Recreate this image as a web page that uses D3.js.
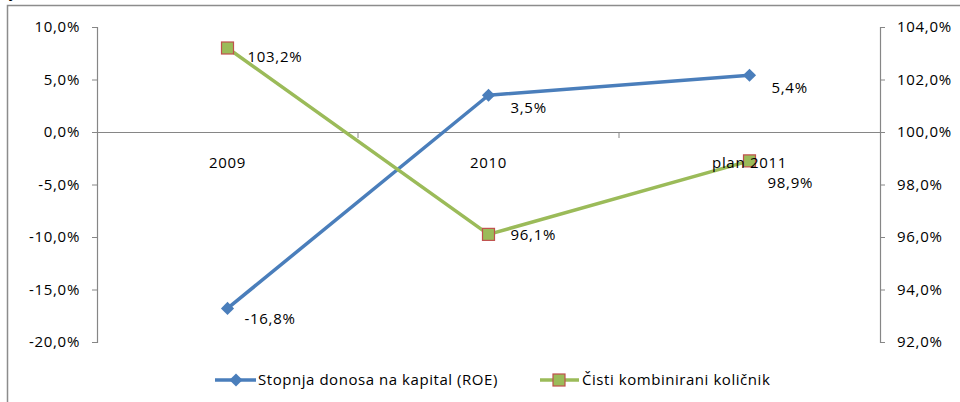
<!DOCTYPE html>
<html>
<head>
<meta charset="utf-8">
<script src="https://cdn.jsdelivr.net/npm/d3@7.9.0/dist/d3.min.js"></script>
<style>
  html, body { margin: 0; padding: 0; background: #fff; }
  svg { display: block; }
  text { font-family: "Open Sans", sans-serif; font-size: 15px; letter-spacing: 0.7px; fill: #000; }
  text.legend { letter-spacing: 0.55px; }
</style>
</head>
<body>
<svg id="chart" width="960" height="402"></svg>
<script>
const categories = ['2009', '2010', 'plan 2011'];
const roe = [-16.8, 3.5, 5.4];
const combinedRatio = [103.2, 96.1, 98.9];
const leftTicks = [10, 5, 0, -5, -10, -15, -20];
const rightTicks = [104, 102, 100, 98, 96, 94, 92];
const seriesNames = ['Stopnja donosa na kapital  (ROE)', 'Čisti kombinirani količnik'];

// label nudges (dx, dy) per point, as Excel placed them
const roeNudge = [[17, 16], [22, 18], [22, 18]];
const crNudge = [[20, 14], [22, 6], [18, 27]];

const blue = '#4A7EBB', green = '#9BBB59', red = '#C0504D', grey = '#868686';
const fmt = v => v.toFixed(1).replace('.', ',') + '%';

const svg = d3.select('#chart');
const plotLeft = 97, plotRight = 880, plotTop = 27, plotBottom = 342;

const x = d3.scaleBand().domain(categories).range([plotLeft, plotRight]);
const yL = d3.scaleLinear().domain([-20, 10]).range([plotBottom, plotTop]);
const yR = d3.scaleLinear().domain([92, 104]).range([plotBottom, plotTop]);
const cx = d => x(d) + x.bandwidth() / 2;

// outer border of the chart area
svg.append('rect')
  .attr('x', 7.5).attr('y', 5.5).attr('width', 1000).attr('height', 450)
  .attr('fill', 'none').attr('stroke', '#8c8c8c').attr('stroke-width', 1.5);

// cut-off title glyph above the frame
svg.append('text').attr('x', 9).attr('y', -3).style('font-size', '16px').text('y');

// left axis
const axL = svg.append('g').attr('transform', `translate(${plotLeft},0)`)
  .call(d3.axisLeft(yL).tickValues(leftTicks).tickSize(5).tickPadding(12).tickFormat(fmt));
// right axis
const axR = svg.append('g').attr('transform', `translate(${plotRight},0)`)
  .call(d3.axisRight(yR).tickValues(rightTicks).tickSize(5).tickPadding(12).tickFormat(fmt));
[axL, axR].forEach(g => {
  g.attr('font-family', null).attr('font-size', null);
  g.select('.domain').attr('stroke', grey).attr('stroke-width', 1.2);
  g.selectAll('.tick line').attr('stroke', grey);
  g.selectAll('text').attr('fill', '#000');
});

// category axis along zero: line + separators now, labels on top later
const axX = svg.append('g').attr('transform', `translate(0,${yL(0)})`)
  .call(d3.axisBottom(x).tickSize(0).tickFormat(''));
axX.select('.domain').attr('stroke', grey).attr('stroke-width', 1.2);
axX.selectAll('.sep')
  .data(categories.slice(1))
  .join('line')
  .attr('x1', d => x(d)).attr('x2', d => x(d))
  .attr('y1', 0).attr('y2', 6)
  .attr('stroke', grey);

// series lines
const lineL = d3.line().x((d, i) => cx(categories[i])).y(d => yL(d));
const lineR = d3.line().x((d, i) => cx(categories[i])).y(d => yR(d));

svg.append('path').attr('d', lineL(roe))
  .attr('fill', 'none').attr('stroke', blue).attr('stroke-width', 3.5).attr('stroke-linejoin', 'round');
svg.append('path').attr('d', lineR(combinedRatio))
  .attr('fill', 'none').attr('stroke', green).attr('stroke-width', 3.5).attr('stroke-linejoin', 'round');

const diamond = d3.symbol().type(d3.symbolDiamond2).size(110);

svg.selectAll('.roe-m').data(roe).join('path')
  .attr('transform', (d, i) => `translate(${cx(categories[i])},${yL(d)})`)
  .attr('d', diamond).attr('fill', blue);

svg.selectAll('.cr-m').data(combinedRatio).join('rect')
  .attr('x', (d, i) => cx(categories[i]) - 6).attr('y', d => yR(d) - 6)
  .attr('width', 12).attr('height', 12)
  .attr('fill', green).attr('stroke', red).attr('stroke-width', 1.2);

// category labels drawn over the series
const axXLabels = svg.append('g').attr('transform', `translate(0,${yL(0)})`)
  .call(d3.axisBottom(x).tickSize(0).tickPadding(25));
axXLabels.attr('font-family', null).attr('font-size', null);
axXLabels.select('.domain').remove();
axXLabels.selectAll('text').attr('fill', '#000');

// data labels
svg.selectAll('.roe-l').data(roe).join('text')
  .attr('x', (d, i) => cx(categories[i]) + roeNudge[i][0])
  .attr('y', (d, i) => yL(d) + roeNudge[i][1])
  .text(fmt);
svg.selectAll('.cr-l').data(combinedRatio).join('text')
  .attr('x', (d, i) => cx(categories[i]) + crNudge[i][0])
  .attr('y', (d, i) => yR(d) + crNudge[i][1])
  .text(fmt);

// legend
const ly = 380;
const lg = svg.append('g');
lg.append('line').attr('x1', 215).attr('x2', 256).attr('y1', ly).attr('y2', ly)
  .attr('stroke', blue).attr('stroke-width', 3.5);
lg.append('path').attr('transform', `translate(236,${ly})`).attr('d', diamond).attr('fill', blue);
lg.append('text').attr('class', 'legend').attr('x', 258).attr('y', ly + 5).text(seriesNames[0]);

lg.append('line').attr('x1', 540).attr('x2', 579).attr('y1', ly).attr('y2', ly)
  .attr('stroke', green).attr('stroke-width', 3.5);
lg.append('rect').attr('x', 553).attr('y', ly - 6).attr('width', 12).attr('height', 12)
  .attr('fill', green).attr('stroke', red).attr('stroke-width', 1.2);
lg.append('text').attr('class', 'legend').attr('x', 582).attr('y', ly + 5).text(seriesNames[1]);
</script>
</body>
</html>
